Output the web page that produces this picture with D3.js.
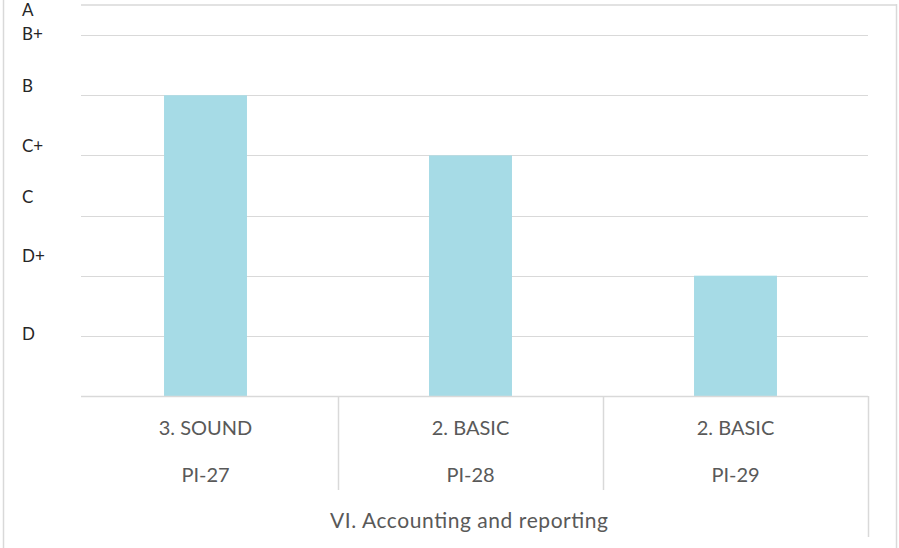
<!DOCTYPE html>
<html>
<head>
<meta charset="utf-8">
<script src="https://cdn.jsdelivr.net/npm/d3@7"></script>
<style>
  html, body { margin: 0; padding: 0; background: #fff; }
  svg { display: block; }
</style>
</head>
<body>
<svg id="chart" width="899" height="548"></svg>
<script>
// ---- data ----
const ratings = ["3. SOUND", "2. BASIC", "2. BASIC"];
const indicators = ["PI-27", "PI-28", "PI-29"];
const scores = [5, 4, 2];
const groupLabel = "VI. Accounting and reporting";
const gridValues = [1, 2, 3, 4, 5, 6, 6.5];
const gradeLabels = ["D", "D+", "C", "C+", "B", "B+", "A"];
const gradeLabelValues = [0.93, 2.23, 3.21, 4.06, 5.05, 5.92, 6.31];

// ---- layout ----
const W = 899, H = 548;
const svg = d3.select("#chart");
const gridColor = "#d9d9d9";
const font = "Lato, 'Open Sans', sans-serif";

const y = d3.scaleLinear().domain([0, 6.5]).range([396, 5]);
const x = d3.scaleBand().domain(d3.range(ratings.length)).range([73, 868]).padding(0);
const barW = x.bandwidth() * 0.313;
const gridX0 = 81, gridX1 = 868;

// outer borders
svg.append("line").attr("x1", 3.5).attr("x2", 3.5).attr("y1", 0).attr("y2", H)
  .attr("stroke", gridColor).attr("stroke-width", 1.5);
svg.append("line").attr("x1", 896.5).attr("x2", 896.5).attr("y1", 4).attr("y2", H)
  .attr("stroke", gridColor).attr("stroke-width", 1.5);
svg.append("line").attr("x1", gridX0).attr("x2", 897).attr("y1", y(6.5)).attr("y2", y(6.5))
  .attr("stroke", gridColor).attr("stroke-width", 1.5);

// gridlines
svg.append("g").selectAll("line").data(gridValues.slice(0, -1)).join("line")
  .attr("x1", gridX0).attr("x2", gridX1)
  .attr("y1", d => Math.round(y(d)) + 0.5).attr("y2", d => Math.round(y(d)) + 0.5)
  .attr("stroke", gridColor).attr("stroke-width", 1);

// bars
svg.append("g").selectAll("rect").data(scores).join("rect")
  .attr("x", (d, i) => x(i) + (x.bandwidth() - barW) / 2)
  .attr("width", barW)
  .attr("y", d => y(d))
  .attr("height", d => y(0) - y(d))
  .attr("fill", "#a6dbe6");

// baseline
svg.append("line").attr("x1", gridX0).attr("x2", gridX1)
  .attr("y1", y(0) + 0.5).attr("y2", y(0) + 0.5)
  .attr("stroke", gridColor).attr("stroke-width", 1.5);

// category separators
svg.append("g").selectAll("line").data(d3.range(1, ratings.length)).join("line")
  .attr("x1", i => x(i) + 0.5).attr("x2", i => x(i) + 0.5)
  .attr("y1", y(0)).attr("y2", 490)
  .attr("stroke", gridColor).attr("stroke-width", 1.5);
svg.append("line").attr("x1", 868.5).attr("x2", 868.5).attr("y1", y(0)).attr("y2", 537)
  .attr("stroke", gridColor).attr("stroke-width", 1.5);

// category labels
svg.append("g").selectAll("text").data(ratings).join("text")
  .attr("x", (d, i) => x(i) + x.bandwidth() / 2)
  .attr("y", 435)
  .attr("text-anchor", "middle")
  .attr("font-family", font).attr("font-size", 20).attr("fill", "#595959")
  .text(d => d);
svg.append("g").selectAll("text").data(indicators).join("text")
  .attr("x", (d, i) => x(i) + x.bandwidth() / 2)
  .attr("y", 482)
  .attr("text-anchor", "middle")
  .attr("font-family", font).attr("font-size", 20).attr("fill", "#595959")
  .text(d => d);
svg.append("text")
  .attr("x", 469)
  .attr("y", 528)
  .attr("text-anchor", "middle")
  .attr("font-family", font).attr("font-size", 21).attr("fill", "#595959")
  .attr("textLength", 278).attr("lengthAdjust", "spacing")
  .text(groupLabel);

// grade labels
svg.append("g").selectAll("text").data(gradeLabels).join("text")
  .attr("x", 22)
  .attr("y", (d, i) => y(gradeLabelValues[i]))
  .attr("font-family", font).attr("font-size", 17).attr("fill", "#262626")
  .text(d => d);
</script>
</body>
</html>
